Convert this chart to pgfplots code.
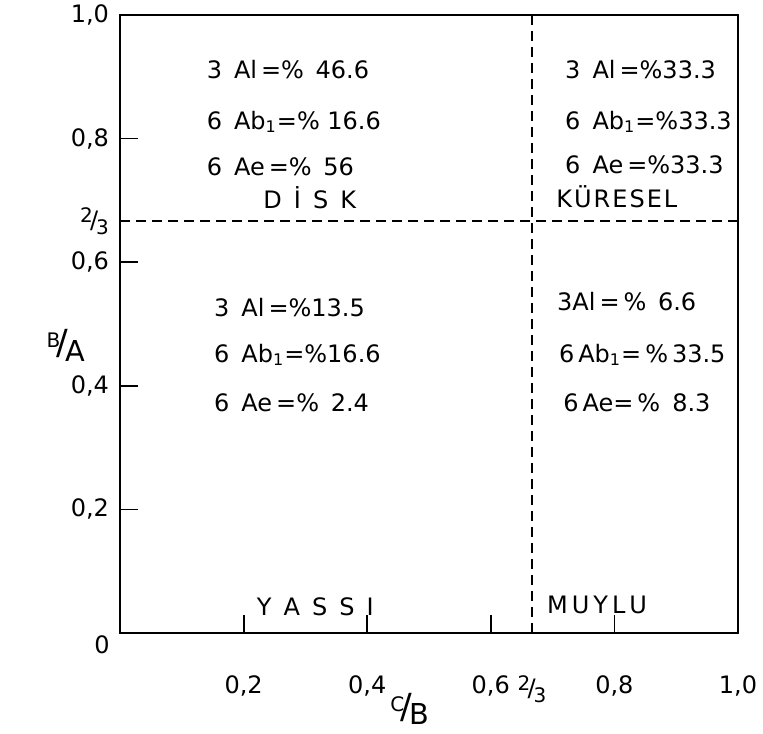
\documentclass[border=0pt]{standalone}
\usepackage{fontspec}
\setmainfont{DejaVu Sans}
\usepackage{pgfplots}
\pgfplotsset{compat=1.18}
\newcommand{\slfrac}[2]{\raisebox{0.45ex}{\normalsize #1}\kern-0.12em{\large/}\kern-0.08em\raisebox{-0.45ex}{\normalsize #2}}
\newcommand{\bigfrac}[2]{\raisebox{0.55ex}{\normalsize #1}\kern-0.15em{\LARGE/}\kern-0.12em\raisebox{-0.5ex}{\Large #2}}
\begin{document}
\begin{tikzpicture}[font=\fontsize{12}{14}\selectfont]
\useasboundingbox (-60pt,-50pt) rectangle (321.5pt,316.5pt);
\begin{axis}[
  at={(0,0)}, anchor=south west,
  scale only axis, width=309pt, height=309pt,
  xmin=0, xmax=1, ymin=0, ymax=1,
  axis line style={line width=1pt},
  tick align=inside, major tick length=9pt,
  tick style={black, line width=0.9pt},
  xtick pos=lower, ytick pos=left,
  xtick={0.2,0.4,0.6,0.8},
  xticklabels={{0,2},{0,4},{0,6},{0,8}},
  ytick={0.2,0.4,0.6,0.8},
  yticklabels={{0,2},{0,4},{0,6},{0,8}},
  x tick label style={yshift=-18pt},
  y tick label style={xshift=-2pt},
  extra x ticks={0.6667,1},
  extra x tick labels={\slfrac{2}{3},{1,0}},
  extra x tick style={major tick length=0pt},
  extra y ticks={0.6667,1},
  extra y tick labels={\slfrac{2}{3},{1,0}},
  extra y tick style={major tick length=0pt},
  clip=false,
]
\addplot[black, line width=0.9pt, dash pattern=on 5pt off 3pt] coordinates {(0,0.6667) (1,0.6667)};
\addplot[black, line width=0.9pt, dash pattern=on 5pt off 3pt] coordinates {(0.6667,0) (0.6667,1)};

\node at (axis cs:0,0) [xshift=-9pt, yshift=-6pt] {0};

% upper left
\node[anchor=west] at (axis cs:0.129,0.911) {3\enspace Al\,=\%\, 46.6};
\node[anchor=west] at (axis cs:0.129,0.827) {6\enspace Ab\textsubscript{1}=\% 16.6};
\node[anchor=west] at (axis cs:0.129,0.754) {6\enspace Ae\,=\%\, 56};
\node at (axis cs:0.307,0.704) {D\enspace İ\enspace S\enspace K};
% upper right
\node[anchor=west] at (axis cs:0.709,0.911) {3\enspace Al\,=\%33.3};
\node[anchor=west] at (axis cs:0.709,0.827) {6\enspace Ab\textsubscript{1}=\%33.3};
\node[anchor=west] at (axis cs:0.709,0.757) {6\enspace Ae\,=\%33.3};
\node at (axis cs:0.804,0.706) {K\kern1ptÜ\kern1ptR\kern1ptE\kern1ptS\kern1ptE\kern1ptL};
% lower left
\node[anchor=west] at (axis cs:0.141,0.526) {3\enspace Al\,=\%13.5};
\node[anchor=west] at (axis cs:0.141,0.450) {6\enspace Ab\textsubscript{1}=\%16.6};
\node[anchor=west] at (axis cs:0.141,0.372) {6\enspace Ae\,=\%\, 2.4};
% lower right
\node[anchor=west] at (axis cs:0.696,0.536) {3Al\,=\,\%\, 6.6};
\node[anchor=west] at (axis cs:0.699,0.450) {6\,Ab\textsubscript{1}=\,\%\,33.5};
\node[anchor=west] at (axis cs:0.706,0.372) {6\,Ae=\,\%\enspace 8.3};
% shape names
\node at (axis cs:0.316,0.042) {Y\enspace A\enspace S\enspace S\enspace I};
\node at (axis cs:0.772,0.045) {M\kern2ptU\kern2ptY\kern2ptL\kern2ptU};

% axis labels
\node at (axis cs:0,0.465) [xshift=-27pt] {\bigfrac{B}{A}};
\node at (axis cs:0.469,0) [yshift=-38pt] {\bigfrac{C}{B}};
\end{axis}
\end{tikzpicture}
\end{document}
